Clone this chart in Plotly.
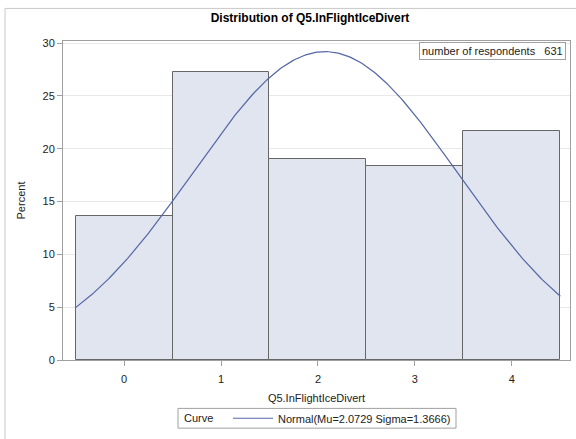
import numpy as np
import plotly.graph_objects as go

# Data
categories = [0, 1, 2, 3, 4]
counts = [86, 172, 120, 116, 137]
n_respondents = 631
mu = 2.0729
sigma = 1.3666
y_ticks = [0, 5, 10, 15, 20, 25, 30]

percent = [c / n_respondents * 100 for c in counts]

# Normal curve (fitted, bin width 1, scaled to percent)
xc = np.linspace(-0.5, 4.5, 300)
yc = 100 * np.exp(-((xc - mu) ** 2) / (2 * sigma ** 2)) / (sigma * np.sqrt(2 * np.pi))

FONT = "Arial, Liberation Sans, sans-serif"
W, H = 576, 439
ML, MR, MT, MB = 63, 6, 41, 75
PW, PH = W - ML - MR, H - MT - MB


def px(x):
    return (x - ML) / PW


def py(y):
    return (H - MB - y) / PH


fig = go.Figure()
fig.add_trace(go.Bar(
    x=categories, y=percent, width=1,
    marker=dict(color="#E0E5EF", line=dict(color="#666666", width=1)),
    showlegend=False, hoverinfo="skip",
))
fig.add_trace(go.Scatter(
    x=xc, y=yc, mode="lines",
    line=dict(color="#5566A6", width=1.2),
    name=f"Normal(Mu={mu:.4f} Sigma={sigma:.4f})",
    showlegend=True,
))

fig.update_layout(
    width=W, height=H,
    margin=dict(l=ML, r=MR, t=MT, b=MB),
    paper_bgcolor="white", plot_bgcolor="white",
    font=dict(family=FONT, size=11, color="#222222"),
    title=dict(text="<b>Distribution of Q5.InFlightIceDivert</b>",
               x=px(310), xref="paper", xanchor="center",
               y=1 - 18 / H, yref="container", yanchor="middle",
               font=dict(size=12, color="black", family=FONT)),
    bargap=0,
    xaxis=dict(range=[-0.63, 4.6], tickvals=categories,
               ticks="outside", ticklen=5, tickcolor="#A0A0A0",
               ticklabelstandoff=4,
               showline=True, linecolor="#A0A0A0", mirror=True,
               showgrid=False, zeroline=False, automargin=False,
               title=dict(text="Q5.InFlightIceDivert", standoff=10,
                          font=dict(size=11)),
               tickfont=dict(size=11)),
    yaxis=dict(range=[0, 30.2], tickvals=y_ticks,
               ticks="outside", ticklen=5, tickcolor="#A0A0A0",
               showline=True, linecolor="#A0A0A0", mirror=True,
               showgrid=True, gridcolor="#E8E8E8", zeroline=False,
               automargin=False,
               title=dict(text="Percent", standoff=14, font=dict(size=11)),
               tickfont=dict(size=11)),
    legend=dict(orientation="h", x=px(228), xanchor="left",
                y=py(423), yanchor="middle",
                bgcolor="rgba(0,0,0,0)", borderwidth=0,
                font=dict(size=11), itemwidth=40),
    annotations=[
        dict(text="number of respondents   " + str(n_respondents),
             xref="paper", yref="paper", x=px(566), y=py(42),
             xanchor="right", yanchor="top", showarrow=False,
             bordercolor="#A0A0A0", borderwidth=1, borderpad=2,
             bgcolor="white", font=dict(size=11, color="#222222")),
        dict(text="Curve", xref="paper", yref="paper",
             x=px(182), y=py(423), xanchor="left", yanchor="middle",
             showarrow=False, font=dict(size=11, color="#222222")),
    ],
    shapes=[
        dict(type="rect", xref="paper", yref="paper",
             x0=px(178), x1=px(456), y0=py(433), y1=py(413),
             line=dict(color="#A0A0A0", width=1)),
        dict(type="rect", xref="paper", yref="paper",
             x0=px(5), x1=px(590), y0=py(460), y1=py(8),
             line=dict(color="#C8C8C8", width=1)),
    ],
)

fig.write_html("out.html",
               config={"displayModeBar": False},
               post_script="document.body.style.margin='0';")
